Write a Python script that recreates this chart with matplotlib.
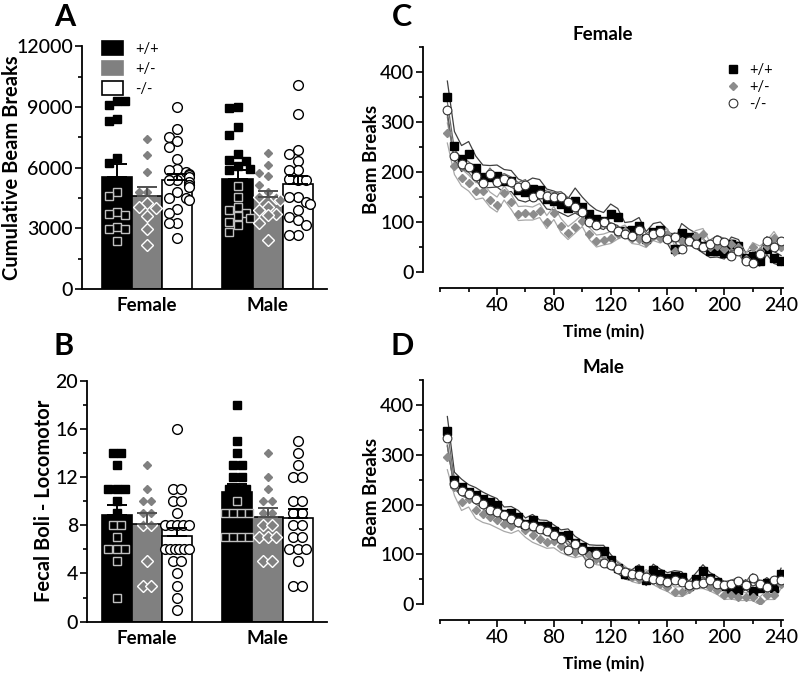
import matplotlib
matplotlib.use("Agg")
import matplotlib.pyplot as plt
import numpy as np
from matplotlib.patches import Patch
from matplotlib.lines import Line2D
from matplotlib.ticker import MultipleLocator

plt.rcParams['font.family'] = ['Lato', 'DejaVu Sans']

genotypes = ['+/+', '+/-', '-/-']
sexes = ['Female', 'Male']

## panel A : cumulative beam breaks per animal
beam_f_wt = [9275, 9078, 9275, 8421, 8290, 6501, 6238, 4810, 4597, 3825, 3710, 3644, 3054, 2955, 2955, 2380]
beam_f_het = [7440, 6620, 5800, 4810, 4810, 4240, 4080, 4000, 3600, 2950, 2180]
beam_f_ko = [8980, 7920, 7510, 7310, 7020, 6440, 5950, 5870, 5790, 5710, 5620, 5540, 5380, 5380,
             5300, 5130, 5130, 5050, 4800, 4480, 4480, 4400, 3980, 3740, 3250, 3250, 2510]
beam_m_wt = [8980, 8930, 8000, 7620, 6690, 6360, 6330, 6070, 5950, 5870, 5080, 4530, 4070, 3900,
             3740, 3620, 3490, 3330, 3160, 2840]
beam_m_het = [6700, 6120, 5740, 5570, 5160, 4800, 4530, 4520, 4400, 4070, 3900, 3700, 3650, 3250, 2430]
beam_m_ko = [10100, 8660, 6850, 6690, 6330, 5870, 5900, 5460, 5380, 5380, 4560, 4560, 4310, 4200,
             3900, 3570, 3410, 3160, 2670, 2670]

## panel B : fecal boli per animal
boli_f_wt = [14, 14, 13, 11, 11, 11, 10, 9, 8, 8, 7, 6, 6, 6, 5, 2]
boli_f_het = [13, 11, 10, 10, 9, 9, 8, 8, 5, 3, 3]
boli_f_ko = [16, 11, 11, 10, 10, 9, 8, 8, 8, 8, 8, 6, 6, 6, 6, 6, 6, 5, 5, 4, 3, 2, 1]
boli_m_wt = [18, 15, 14, 13, 13, 12, 12, 11, 11, 11, 10, 9, 9, 9, 9, 7, 7, 7, 7]
boli_m_het = [14, 12, 11, 10, 10, 9, 9, 8, 8, 7, 7, 7, 5, 5]
boli_m_ko = [15, 14, 13, 12, 12, 10, 10, 9, 9, 8, 8, 7, 7, 6, 6, 6, 5, 3, 3]

## panels C / D : time course, 5 min bins
times = list(range(5, 241, 5))

fem_wt = [350, 253, 227, 237, 208, 191, 191, 192, 182, 182, 165, 160, 167, 165, 146, 143, 137, 129, 143, 130,
          117, 107, 102, 117, 110, 83, 85, 93, 66, 81, 85, 71, 47, 78, 70, 63, 52, 42, 43, 38,
          57, 53, 28, 33, 23, 46, 29, 23]
fem_het = [278, 213, 189, 178, 162, 163, 145, 135, 158, 140, 117, 118, 117, 123, 100, 118, 93, 78, 90, 103,
           77, 62, 65, 69, 77, 83, 68, 67, 60, 73, 69, 77, 43, 63, 63, 73, 77, 50, 53, 47,
           57, 50, 27, 50, 43, 53, 69, 51]
fem_ko = [325, 233, 217, 210, 193, 178, 197, 180, 187, 180, 170, 175, 150, 157, 153, 150, 151, 140, 131, 120,
          100, 95, 100, 90, 83, 77, 73, 85, 69, 77, 80, 67, 70, 47, 63, 57, 51, 57, 65, 60,
          33, 43, 23, 18, 37, 63, 50, 62]
fem_wt_sem = [32, 28, 26, 24, 24, 23, 22, 22, 23, 21, 21, 20, 21, 20, 20, 19, 19, 18, 25, 20,
              18, 17, 17, 19, 17, 16, 16, 16, 15, 16, 15, 14, 15, 19, 16, 15, 14, 13, 13, 12,
              13, 12, 11, 12, 11, 11, 12, 10]
fem_het_sem = [20, 18, 17, 16, 17, 15, 15, 15, 14, 15, 14, 14, 13, 14, 13, 13, 14, 13, 12, 12,
               12, 12, 11, 12, 11, 11, 11, 12, 11, 10, 11, 10, 10, 11, 10, 10, 10, 9, 10, 9,
               9, 10, 9, 9, 9, 10, 12, 9]
fem_ko_sem = [15, 12, 11, 11, 10, 10, 11, 10, 10, 10, 9, 10, 9, 9, 9, 9, 10, 9, 9, 9,
              8, 8, 9, 8, 8, 8, 8, 9, 8, 8, 8, 8, 8, 7, 8, 7, 7, 7, 8, 7,
              7, 7, 7, 7, 7, 8, 7, 7]

male_wt = [347, 249, 236, 226, 220, 211, 205, 199, 181, 183, 175, 160, 168, 156, 156, 147, 137, 139, 123, 115,
           107, 107, 106, 89, 73, 61, 58, 69, 48, 69, 60, 53, 57, 55, 36, 51, 67, 53, 45, 36,
           27, 28, 39, 27, 33, 43, 33, 60]
male_het = [295, 235, 205, 211, 188, 180, 175, 168, 161, 156, 163, 148, 138, 131, 125, 126, 116, 109, 105, 109,
            98, 91, 88, 81, 75, 65, 55, 51, 58, 49, 41, 35, 25, 25, 31, 41, 41, 35, 28, 18,
            18, 15, 15, 15, 6, 18, 18, 41]
male_ko = [333, 241, 228, 221, 211, 201, 188, 185, 178, 171, 165, 158, 156, 151, 147, 138, 131, 108, 121, 108,
           83, 101, 83, 78, 71, 65, 61, 58, 55, 51, 48, 45, 48, 45, 38, 41, 43, 48, 41, 38,
           41, 46, 38, 53, 40, 35, 48, 49]
male_wt_sem = [30, 16, 15, 14, 14, 14, 13, 13, 14, 13, 13, 13, 12, 13, 12, 12, 12, 12, 13, 12,
               12, 11, 12, 11, 11, 11, 11, 10, 11, 11, 10, 10, 10, 10, 10, 11, 12, 10, 10, 9,
               9, 9, 10, 9, 9, 10, 9, 12]
male_het_sem = [25, 17, 17, 16, 16, 16, 15, 15, 15, 14, 15, 14, 14, 13, 13, 13, 13, 12, 12, 12,
                12, 12, 11, 11, 11, 11, 10, 10, 11, 10, 10, 10, 9, 10, 9, 10, 10, 9, 9, 9,
                8, 8, 8, 8, 8, 9, 9, 10]
male_ko_sem = [14, 10, 10, 10, 10, 9, 9, 9, 9, 9, 9, 9, 9, 8, 8, 8, 8, 9, 8, 8,
               8, 8, 8, 8, 7, 7, 7, 7, 7, 7, 7, 7, 7, 7, 7, 7, 7, 7, 7, 7,
               7, 7, 7, 8, 7, 7, 7, 7]

bar_colors = ['black', '#808080', 'white']
markers = ['s', 'D', 'o']
band_colors = ['#404040', '#a8a8a8', '#6e6e6e']
tick_kw = dict(labelsize=14, width=1.2, length=5, pad=1.5)

fig = plt.figure(figsize=(8, 6.74), dpi=100)


def spread_cont(vals, thr):
    # crude swarm: put each point at the first free slot
    slots = [0, -0.28, 0.28, -0.14, 0.14, -0.4, 0.4]
    placed = []
    offs = []
    for v in vals:
        for s in slots:
            ok = True
            for (pv, ps) in placed:
                if abs(pv - v) < thr and abs(ps - s) < 0.26:
                    ok = False
                    break
            if ok:
                break
        placed.append((v, s))
        offs.append(s)
    return np.array(offs)


def spread_int(vals):
    vals = np.array(vals)
    offs = np.zeros(len(vals))
    for v in np.unique(vals):
        idx = np.where(vals == v)[0]
        k = len(idx)
        if k > 1:
            step = min(0.28, 0.8 / (k - 1))
            offs[idx] = (np.arange(k) - (k - 1) / 2) * step
    return offs


def bar_panel(ax, groups, discrete):
    pos = [0, 1, 2, 4, 5, 6]
    for i, vals in enumerate(groups):
        g = i % 3
        vals = np.array(vals, dtype=float)
        m = vals.mean()
        sem = vals.std(ddof=1) / np.sqrt(len(vals))
        ax.bar(pos[i], m, width=1.0, color=bar_colors[g], edgecolor='black', linewidth=1.2, zorder=2)
        ecol = '#505050' if g == 1 else 'black'
        ax.errorbar(pos[i], m, yerr=[[0], [sem]], color=ecol, capsize=7, elinewidth=1.4,
                    capthick=1.4, zorder=5)
        if discrete:
            offs = spread_int(vals)
        else:
            offs = spread_cont(vals, 420)
        for v, o in zip(vals, offs):
            inside = v < m
            if g == 0:
                fc, ec, ms = 'black', ('#c0c0c0' if inside else 'black'), 5.5
            elif g == 1:
                fc, ec, ms = '#808080', ('white' if inside else '#808080'), (6 if inside else 4.5)
            else:
                fc, ec, ms = 'white', 'black', 7
            ax.plot(pos[i] + o, v, marker=markers[g], ms=ms, mfc=fc, mec=ec, mew=1.0,
                    ls='none', zorder=4)
    ax.spines['top'].set_visible(False)
    ax.spines['right'].set_visible(False)
    ax.spines['left'].set_linewidth(1.3)
    ax.spines['bottom'].set_linewidth(1.3)
    ax.set_xticks([1, 5])
    ax.set_xticklabels(sexes, fontsize=13.5, fontweight='bold')
    ax.tick_params(axis='x', length=0, pad=6)
    ax.tick_params(axis='y', which='major', **tick_kw)
    ax.tick_params(axis='y', which='minor', width=1.2, length=3)
    for lb in ax.get_yticklabels():
        lb.set_fontweight('medium')


# ---- A
axA = fig.add_axes([0.1025, 0.571, 0.306, 0.3605])
bar_panel(axA, [beam_f_wt, beam_f_het, beam_f_ko, beam_m_wt, beam_m_het, beam_m_ko], False)
axA.set_xlim(-1.16, 6.96)
axA.set_ylim(0, 12000)
axA.yaxis.set_major_locator(MultipleLocator(3000))
axA.yaxis.set_minor_locator(MultipleLocator(1500))
axA.set_ylabel('Cumulative Beam Breaks', fontsize=14.5, fontweight='bold')
axA.yaxis.set_label_coords(-0.245, 0.5)
leg_handles = [Patch(facecolor=c, edgecolor='black' if c == 'white' else c, linewidth=1.2) for c in bar_colors]
axA.legend(leg_handles, genotypes, loc='upper left', bbox_to_anchor=(0.05, 1.05), frameon=False,
           fontsize=10.5, handlelength=1.5, handleheight=1.1, labelspacing=0.35, handletextpad=0.8,
           borderpad=0)

# ---- B
axB = fig.add_axes([0.109, 0.0776, 0.3, 0.3576])
bar_panel(axB, [boli_f_wt, boli_f_het, boli_f_ko, boli_m_wt, boli_m_het, boli_m_ko], True)
axB.set_xlim(-0.98, 6.98)
axB.set_ylim(0, 20)
axB.yaxis.set_major_locator(MultipleLocator(4))
axB.yaxis.set_minor_locator(MultipleLocator(2))
axB.set_ylabel('Fecal Boli - Locomotor', fontsize=14.5, fontweight='bold')
axB.yaxis.set_label_coords(-0.14, 0.5)


def time_panel(ax, series, sems, title):
    t = np.array(times)
    for g in range(3):
        y = np.array(series[g], dtype=float)
        s = np.array(sems[g], dtype=float)
        ax.plot(t, y + s, color=band_colors[g], lw=0.9, zorder=2)
        ax.plot(t, y - s, color=band_colors[g], lw=0.9, zorder=2)
    styles = [dict(marker='s', ms=6, mfc='black', mec='black'),
              dict(marker='D', ms=4.5, mfc='#8c8c8c', mec='#8c8c8c'),
              dict(marker='o', ms=6.3, mfc='white', mec='#333333', mew=0.8)]
    for g in range(3):
        ax.plot(t, series[g], ls='none', zorder=3, **styles[g])
    ax.set_xlim(-12, 241.5)
    ax.set_ylim(0, 450)
    ax.spines['top'].set_visible(False)
    ax.spines['right'].set_visible(False)
    ax.spines['left'].set_linewidth(1.3)
    ax.spines['bottom'].set_linewidth(1.3)
    ax.spines['bottom'].set_position(('outward', 11.5))
    ax.spines['bottom'].set_bounds(0, 241.5)
    ax.xaxis.set_minor_locator(MultipleLocator(20))
    ax.set_xticks([40, 80, 120, 160, 200, 240])
    ax.yaxis.set_major_locator(MultipleLocator(100))
    ax.yaxis.set_minor_locator(MultipleLocator(50))
    ax.tick_params(axis='both', which='major', **tick_kw)
    ax.tick_params(axis='both', which='minor', width=1.2, length=3)
    for lb in ax.get_xticklabels() + ax.get_yticklabels():
        lb.set_fontweight('medium')
    ax.set_xlabel('Time (min)', fontsize=12.5, fontweight='bold', labelpad=7)
    ax.set_ylabel('Beam Breaks', fontsize=13.5, fontweight='bold')
    ax.yaxis.set_label_coords(-0.12, 0.5)
    ax.set_title(title, fontsize=13.5, fontweight='bold', pad=5)
    return styles


axC = fig.add_axes([0.529, 0.5964, 0.45, 0.3338])
st = time_panel(axC, [fem_wt, fem_het, fem_ko], [fem_wt_sem, fem_het_sem, fem_ko_sem], 'Female')
leg2 = [Line2D([], [], ls='none', **s) for s in st]
axC.legend(leg2, genotypes, loc='upper left', bbox_to_anchor=(0.82, 0.96), frameon=False,
           fontsize=10.5, handlelength=1.0, handletextpad=0.6, labelspacing=0.2, borderpad=0)

axD = fig.add_axes([0.529, 0.1039, 0.45, 0.332])
time_panel(axD, [male_wt, male_het, male_ko], [male_wt_sem, male_het_sem, male_ko_sem], 'Male')

for lab, x, y in [('A', 0.081, 0.975), ('B', 0.079, 0.487), ('C', 0.503, 0.975), ('D', 0.503, 0.487)]:
    fig.text(x, y, lab, fontsize=22, fontweight='bold', ha='center', va='center')

fig.savefig('out.png', dpi=100)
